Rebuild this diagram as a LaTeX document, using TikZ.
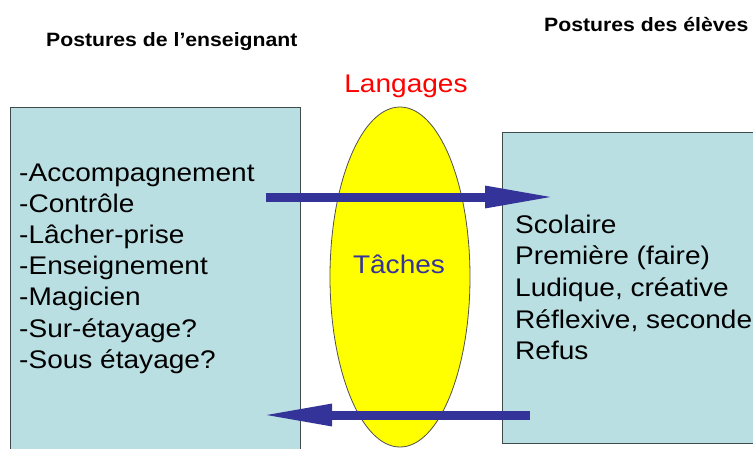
\documentclass[tikz,border=0pt]{standalone}
\usepackage{fontspec}
\setmainfont{Liberation Sans}[FakeStretch=1.1]
\usetikzlibrary{arrows.meta,shapes.geometric}
\definecolor{boxfill}{HTML}{B9DFE3}
\definecolor{boxedge}{HTML}{3F4A4A}
\definecolor{navy}{HTML}{333399}
\definecolor{ellfill}{HTML}{FFFF00}
\definecolor{elledge}{HTML}{505050}
\begin{document}
\begin{tikzpicture}[x=1pt,y=-1pt,
  panel/.style={draw=boxedge, line width=1.3pt, fill=boxfill, rectangle, inner sep=0pt},
  oval/.style={draw=elledge, line width=0.8pt, fill=ellfill, ellipse, inner sep=0pt, minimum width=140pt, minimum height=340pt},
  bigarrow/.style={draw=navy, line width=9pt, -{Triangle[length=72pt,width=20pt]}},
  hdr/.style={inner sep=0pt, font=\fontsize{19.3}{23}\selectfont\bfseries},
  lbl/.style={inner sep=0pt, font=\fontsize{25.5}{30}\selectfont}]
\useasboundingbox (0,0) rectangle (753,448);
\clip (0,0) rectangle (753,448);
\fill[white] (0,0) rectangle (753,448);
% boxes
\node[panel, anchor=north west, minimum width=290pt, minimum height=363pt] (left) at (10,107) {};
\node[panel, anchor=north west, minimum width=268pt, minimum height=311pt] (right) at (502,132) {};
% ellipse
\node[oval] (ell) at (400,277) {};
% arrows
\coordinate (r1) at (266,197);
\coordinate (r2) at (557,197);
\coordinate (l1) at (530,415);
\coordinate (l2) at (260,415);
\draw[bigarrow] (r1) -- (r2);
\draw[bigarrow] (l1) -- (l2);
% headers
\node[hdr, anchor=base west] (h1) at (46,46) {Postures de l’enseignant};
\node[hdr, anchor=base west] (h2) at (544,31) {Postures des élèves};
% labels
\node[lbl, text=red, anchor=base] (lang) at (406,92) {Langages};
\node[lbl, text=navy, anchor=base] (tach) at (399,273) {Tâches};
% left list
\foreach \t [count=\i] in {-Accompagnement,-Contrôle,-Lâcher-prise,-Enseignement,-Magicien,-Sur-étayage?,-Sous étayage?}
  \node[lbl, anchor=base west] (t\i) at (19,{181+(\i-1)*31.2}) {\t};
% right list
\foreach \t [count=\i] in {Scolaire,Première (faire),{Ludique, créative},{Réflexive, seconde},Refus}
  \node[lbl, anchor=base west] (s\i) at (515,{233+(\i-1)*31.7}) {\t};
\end{tikzpicture}
\end{document}
